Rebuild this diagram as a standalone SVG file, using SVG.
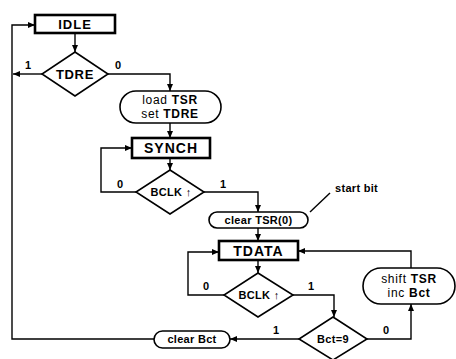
<svg xmlns="http://www.w3.org/2000/svg" width="456" height="359" viewBox="0 0 456 359">
<defs>
<marker id="ah" markerUnits="userSpaceOnUse" markerWidth="7" markerHeight="6" refX="7" refY="3" orient="auto">
<path d="M0,0 L7,3 L0,6 z" fill="#000"/>
</marker>
<style>
.box{fill:#fff;stroke:#000;stroke-width:2.6}
.dia{fill:#fff;stroke:#000;stroke-width:1.6}
.rnd{fill:#fff;stroke:#000;stroke-width:1.6}
.ln{fill:none;stroke:#000;stroke-width:1.4;marker-end:url(#ah)}
.pl{fill:none;stroke:#000;stroke-width:1.4}
text{font-family:"Liberation Sans",Arial,sans-serif;font-weight:bold;fill:#000}
.big{font-size:13px;text-anchor:middle;letter-spacing:1px}
.mid{font-size:12px;text-anchor:middle;letter-spacing:0.7px}
.sm{font-size:11px;text-anchor:middle;letter-spacing:0.3px}
.lbl{font-size:11px}
.n{font-weight:normal}
</style>
</defs>
<rect width="456" height="359" fill="#fff"/>
<g id="connectors">
<path class="ln" d="M75,33 L75,52"/>
<path class="ln" d="M42,74 L13,74"/>
<path class="ln" d="M108,74 L170,74 L170,91"/>
<path class="ln" d="M170,123 L170,138"/>
<path class="ln" d="M170,158 L170,170"/>
<path class="ln" d="M136,192 L101,192 L101,148 L132,148"/>
<path class="ln" d="M204,192 L258,192 L258,212"/>
<path class="pl" d="M310,212 L330,193"/>
<path class="ln" d="M258,228 L258,241"/>
<path class="ln" d="M258,260 L258,273"/>
<path class="ln" d="M224,295 L188,295 L188,252 L219,252"/>
<path class="ln" d="M293,295 L334,295 L334,317"/>
<path class="ln" d="M299,339 L230,339"/>
<path class="ln" d="M367,339 L411,339 L411,304"/>
<path class="ln" d="M411,268 L411,251 L298,251"/>
<path class="ln" d="M154,339 L12,339 L12,25 L35,25"/>
<text class="lbl" x="25" y="69">1</text>
<text class="lbl" x="115" y="69">0</text>
<text class="lbl" x="117" y="188">0</text>
<text class="lbl" x="220" y="188">1</text>
<text class="lbl" x="203" y="290">0</text>
<text class="lbl" x="308" y="290">1</text>
<text class="lbl" x="273" y="334">1</text>
<text class="lbl" x="383" y="334">0</text>
<text class="lbl" x="335" y="192" style="letter-spacing:0.3px">start bit</text>
</g>
<g id="idle">
<rect class="box" x="35" y="15" width="80" height="18"/>
<text class="big" x="75" y="29">IDLE</text>
</g>
<g id="tdre">
<path class="dia" d="M75,52 L108,74 L75,96 L42,74 z"/>
<text class="mid" x="75" y="79" style="font-size:13px">TDRE</text>
</g>
<g id="load">
<rect class="rnd" x="120" y="91" width="101" height="32" rx="16"/>
<text class="mid" x="170" y="104"><tspan class="n">load</tspan> TSR</text>
<text class="mid" x="170" y="118"><tspan class="n">set</tspan> TDRE</text>
</g>
<g id="synch">
<rect class="box" x="132" y="138" width="78" height="20"/>
<text class="big" x="171" y="153" style="font-size:14px">SYNCH</text>
</g>
<g id="bclk1">
<path class="dia" d="M170,170 L204,192 L170,214 L136,192 z"/>
<text class="sm" x="171" y="196">BCLK ↑</text>
</g>
<g id="cleartsr">
<rect class="rnd" x="209" y="212" width="99" height="16" rx="8"/>
<text class="sm" x="258.5" y="224">clear TSR(0)</text>
</g>
<g id="tdata">
<rect class="box" x="219" y="241" width="79" height="19"/>
<text class="big" x="258.5" y="256" style="font-size:14px">TDATA</text>
</g>
<g id="bclk2">
<path class="dia" d="M258,273 L293,295 L258,317 L224,295 z"/>
<text class="sm" x="259" y="299">BCLK ↑</text>
</g>
<g id="bct9">
<path class="dia" d="M333,317 L367,339 L333,360 L299,339 z"/>
<text class="sm" x="333" y="343">Bct=9</text>
</g>
<g id="shift">
<rect class="rnd" x="363" y="268" width="92" height="36" rx="18"/>
<text class="mid" x="409" y="283"><tspan class="n">shift</tspan> TSR</text>
<text class="mid" x="409" y="297"><tspan class="n">inc</tspan> Bct</text>
</g>
<g id="clearbct">
<rect class="rnd" x="154" y="331" width="76" height="17" rx="8.5"/>
<text class="sm" x="192" y="343">clear Bct</text>
</g>
</svg>
